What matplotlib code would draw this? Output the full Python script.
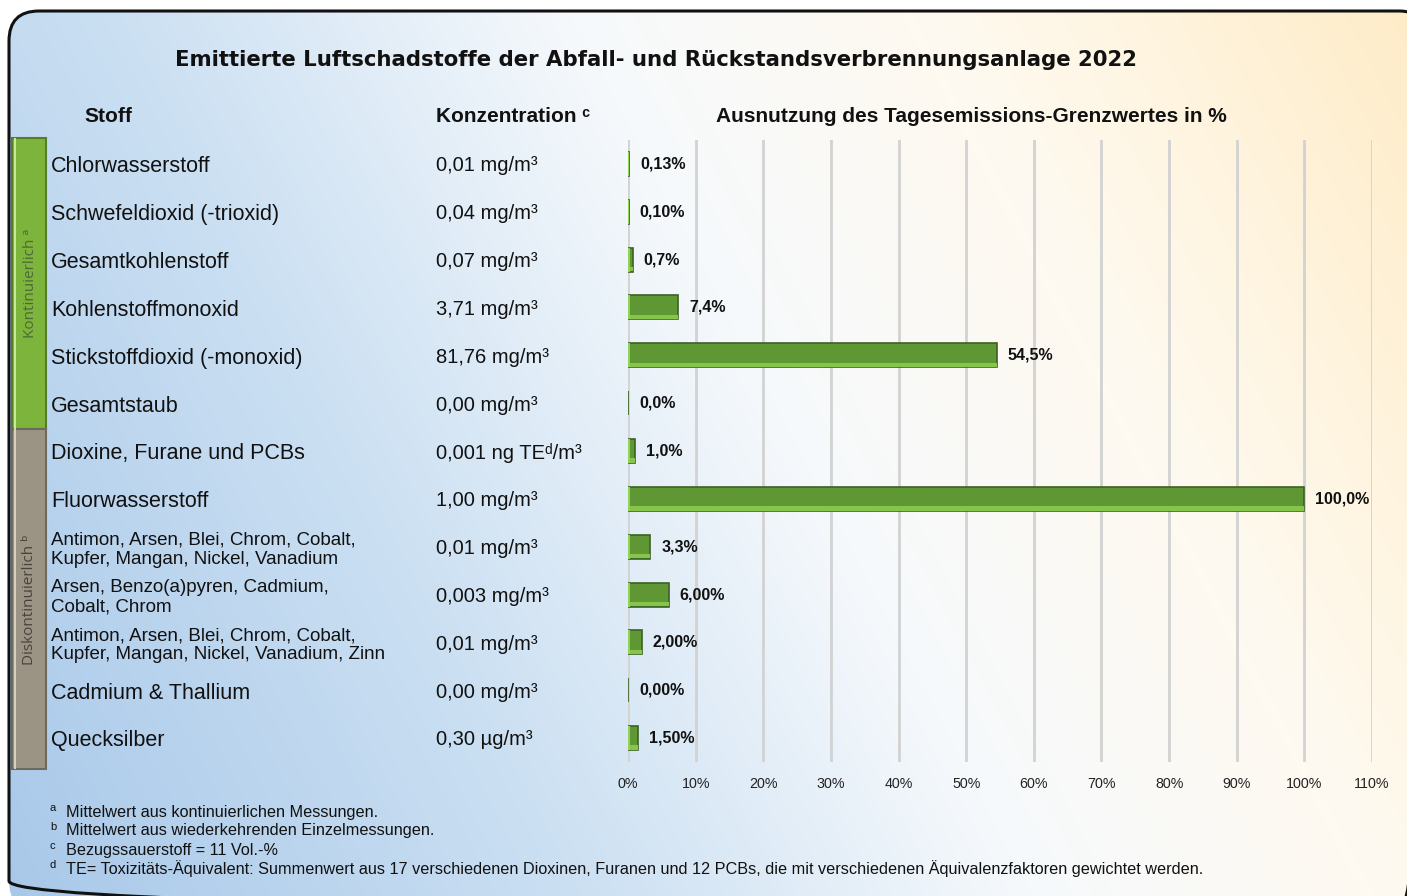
import numpy as np
import matplotlib
matplotlib.use("Agg")
import matplotlib.pyplot as plt
from matplotlib.patches import FancyBboxPatch, Rectangle
from matplotlib.transforms import blended_transform_factory

plt.rcParams['font.family'] = ['Liberation Sans', 'DejaVu Sans']

# --- data ---
stoffe = ["Chlorwasserstoff", "Schwefeldioxid (-trioxid)", "Gesamtkohlenstoff",
          "Kohlenstoffmonoxid", "Stickstoffdioxid (-monoxid)", "Gesamtstaub",
          "Dioxine, Furane und PCBs", "Fluorwasserstoff",
          "Antimon, Arsen, Blei, Chrom, Cobalt,\nKupfer, Mangan, Nickel, Vanadium",
          "Arsen, Benzo(a)pyren, Cadmium,\nCobalt, Chrom",
          "Antimon, Arsen, Blei, Chrom, Cobalt,\nKupfer, Mangan, Nickel, Vanadium, Zinn",
          "Cadmium & Thallium", "Quecksilber"]
konzentration = ["0,01 mg/m³", "0,04 mg/m³", "0,07 mg/m³", "3,71 mg/m³", "81,76 mg/m³",
                 "0,00 mg/m³", "0,001 ng TEᵈ/m³", "1,00 mg/m³", "0,01 mg/m³",
                 "0,003 mg/m³", "0,01 mg/m³", "0,00 mg/m³", "0,30 µg/m³"]
ausnutzung = [0.13, 0.10, 0.7, 7.4, 54.5, 0.0, 1.0, 100.0, 3.3, 6.0, 2.0, 0.0, 1.5]
wert_labels = ["0,13%", "0,10%", "0,7%", "7,4%", "54,5%", "0,0%", "1,0%", "100,0%",
               "3,3%", "6,00%", "2,00%", "0,00%", "1,50%"]
gruppen = ["Kontinuierlich ᵃ", "Diskontinuierlich ᵇ"]
gruppen_anzahl = [6, 7]
x_ticks = list(range(0, 111, 10))
fussnoten_zeichen = ["a", "b", "c", "d"]
fussnoten = ["Mittelwert aus kontinuierlichen Messungen.",
             "Mittelwert aus wiederkehrenden Einzelmessungen.",
             "Bezugssauerstoff = 11 Vol.-%",
             "TE= Toxizitäts-Äquivalent: Summenwert aus 17 verschiedenen Dioxinen, Furanen und 12 PCBs, "
             "die mit verschiedenen Äquivalenzfaktoren gewichtet werden."]

W, H = 1407, 896
fig = plt.figure(figsize=(W / 100, H / 100), dpi=100)

# background axes in pixel coordinates
bg = fig.add_axes([0, 0, 1, 1], zorder=0)
bg.set_xlim(0, W)
bg.set_ylim(H, 0)
bg.axis("off")

# gradient: blue bottom-left -> white -> light orange top-right
gx, gy = np.meshgrid(np.linspace(0, 1, 300), np.linspace(0, 1, 200))
s = 0.75 * gx + 0.25 * (1 - gy)
stops = [0.0, 0.3, 0.55, 0.75, 1.0]
reds = [168, 202, 246, 255, 254]
greens = [200, 223, 249, 250, 236]
blues = [233, 242, 252, 240, 200]
img = np.dstack([np.interp(s, stops, reds), np.interp(s, stops, greens),
                 np.interp(s, stops, blues)]) / 255.0
frame = FancyBboxPatch((9, 11), 1420, 900, boxstyle="round,pad=0,rounding_size=30",
                       facecolor="none", edgecolor="#111111", linewidth=2.2, zorder=2)
bg.add_patch(frame)
im = bg.imshow(img, extent=(0, W, H, 0), aspect="auto", interpolation="bilinear", zorder=1)
im.set_clip_path(frame)

# bar axes
ax = fig.add_axes([628 / W, 1 - 762 / H, 744 / W, 622 / H], zorder=1)
ax.patch.set_alpha(0)
y = np.arange(len(ausnutzung))
vals = np.array(ausnutzung)
ax.barh(y, vals, height=0.5, color="#609735", edgecolor="#3d6025", linewidth=1.2, zorder=3)
ax.barh(y + 0.2, vals, height=0.09, color="#84c54a", linewidth=0, zorder=4)
ax.barh(y, np.minimum(vals, 0.3), height=0.5, color="#8fd452", linewidth=0, zorder=4)
for i, (v, lbl) in enumerate(zip(vals, wert_labels)):
    ax.annotate(lbl, (v, i), xytext=(8, 0), textcoords="offset points", va="center",
                ha="left", fontsize=11.5, fontweight="bold", color="#111111")
ax.set_xlim(0, 110)
ax.set_ylim(len(ausnutzung) - 0.5, -0.5)
ax.set_xticks(x_ticks)
ax.set_xticklabels([f"{t}%" for t in x_ticks], fontsize=10.3, color="#222222")
ax.set_yticks([])
ax.tick_params(axis="x", length=0, pad=11)
ax.xaxis.grid(True, color="#d2d2d2", linewidth=2)
ax.set_axisbelow(True)
for sp in ax.spines.values():
    sp.set_visible(False)

# text columns (x in pixels, y in row units)
tr = blended_transform_factory(bg.transData, ax.transData)
for i, (name, konz) in enumerate(zip(stoffe, konzentration)):
    fs = 13.5 if "\n" in name else 15.5
    bg.text(51, i + 0.06, name, transform=tr, fontsize=fs, va="center", ha="left",
            color="#111111", linespacing=1.15)
    bg.text(436, i + 0.04, konz, transform=tr, fontsize=14.5, va="center", ha="left",
            color="#111111")

# group side bars
start = -0.55
farben = [("#7db43b", "#557f26", "#4a6a36", "#c8e89a"),
          ("#9b9484", "#6e695d", "#48443c", "#d8d0bf")]
for (label, n, (fc, ec, tc, hc)) in zip(gruppen, gruppen_anzahl, farben):
    end = start + n + 0.1
    bg.add_patch(Rectangle((12, start), 34, end - start, transform=tr, facecolor=fc,
                           edgecolor=ec, linewidth=1.5, zorder=3))
    bg.add_patch(Rectangle((13.5, start), 2.5, end - start, transform=tr, facecolor=hc,
                           linewidth=0, zorder=4))
    bg.text(30, (start + end) / 2, label, transform=tr, rotation=90, ha="center", va="center",
            fontsize=11, color=tc, family=["Open Sans", "DejaVu Sans"], zorder=5)
    start = end

# headers and title
bg.text(656, 60, "Emittierte Luftschadstoffe der Abfall- und Rückstandsverbrennungsanlage 2022",
        ha="center", va="center", fontsize=15.3, fontweight="bold", family="DejaVu Sans",
        color="#111111")
bg.text(84, 116, "Stoff", ha="left", va="center", fontsize=15, fontweight="bold", color="#111111")
bg.text(436, 116, "Konzentration ᶜ", ha="left", va="center", fontsize=15, fontweight="bold",
        color="#111111")
bg.text(716, 116, "Ausnutzung des Tagesemissions-Grenzwertes in %", ha="left", va="center",
        fontsize=15, fontweight="bold", color="#111111")

# footnotes
for k, (z, t) in enumerate(zip(fussnoten_zeichen, fussnoten)):
    yy = 812 + 19 * k
    bg.text(50, yy - 4, z, ha="left", va="center", fontsize=8, color="#111111")
    bg.text(66, yy, t, ha="left", va="center", fontsize=11.7, color="#111111")

fig.savefig("out.png", dpi=100)
